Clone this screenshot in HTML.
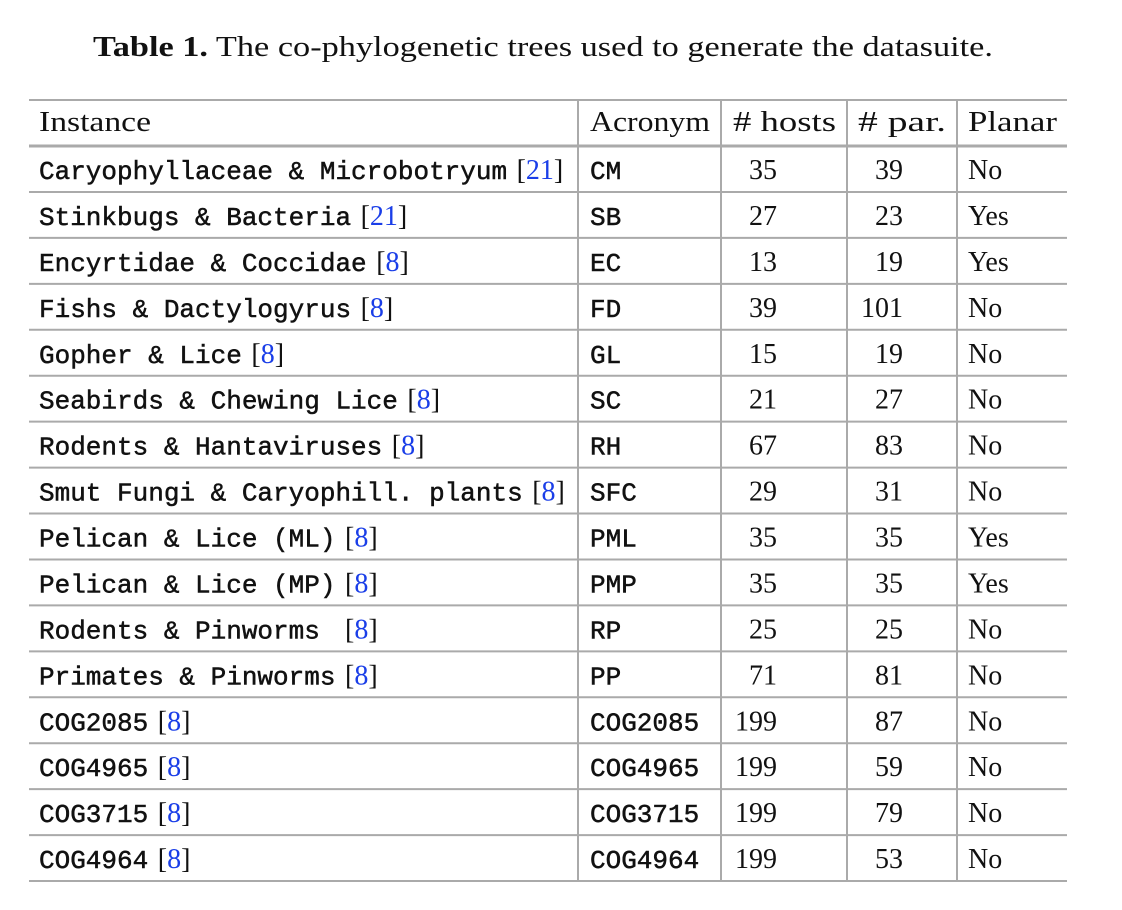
<!DOCTYPE html>
<html><head><meta charset="utf-8"><style>
html,body{margin:0;padding:0;background:#fff;}
svg{display:block;}
.s{font-family:"Liberation Serif",serif;font-size:28px;fill:#111;}
.m{font-family:"Liberation Mono",monospace;font-size:26px;fill:#111;stroke:#111;stroke-width:0.5;}
.b{fill:#1a3ee8;}
</style></head><body>
<svg width="1122" height="910" xmlns="http://www.w3.org/2000/svg">
<text class="s" x="93" y="56" textLength="900" lengthAdjust="spacingAndGlyphs"><tspan font-weight="bold">Table 1.</tspan> The co-phylogenetic trees used to generate the datasuite.</text>
<g stroke="#aaa" stroke-width="2">
<line x1="29" y1="100" x2="1067" y2="100"/>
<line x1="29" y1="146" x2="1067" y2="146" stroke-width="3"/>
<line x1="578" y1="100" x2="578" y2="882"/>
<line x1="721" y1="100" x2="721" y2="882"/>
<line x1="847" y1="100" x2="847" y2="882"/>
<line x1="957" y1="100" x2="957" y2="882"/>
</g>
<g class="s">
<text x="39" y="131" textLength="112" lengthAdjust="spacingAndGlyphs">Instance</text>
<text x="590" y="131" textLength="120" lengthAdjust="spacingAndGlyphs">Acronym</text>
<text x="733" y="131" textLength="103" lengthAdjust="spacingAndGlyphs"># hosts</text>
<text x="858" y="131" textLength="88" lengthAdjust="spacingAndGlyphs"># par.</text>
<text x="968" y="131" textLength="89" lengthAdjust="spacingAndGlyphs">Planar</text>
</g>
<g id="rows"></g>
</svg>
<script>
var d=[["Caryophyllaceae & Microbotryum ","21","CM","35","39","No"],
["Stinkbugs & Bacteria ","21","SB","27","23","Yes"],
["Encyrtidae & Coccidae ","8","EC","13","19","Yes"],
["Fishs & Dactylogyrus ","8","FD","39","101","No"],
["Gopher & Lice ","8","GL","15","19","No"],
["Seabirds & Chewing Lice ","8","SC","21","27","No"],
["Rodents & Hantaviruses ","8","RH","67","83","No"],
["Smut Fungi & Caryophill. plants ","8","SFC","29","31","No"],
["Pelican & Lice (ML) ","8","PML","35","35","Yes"],
["Pelican & Lice (MP) ","8","PMP","35","35","Yes"],
["Rodents & Pinworms  ","8","RP","25","25","No"],
["Primates & Pinworms ","8","PP","71","81","No"],
["COG2085 ","8","COG2085","199","87","No"],
["COG4965 ","8","COG4965","199","59","No"],
["COG3715 ","8","COG3715","199","79","No"],
["COG4964 ","8","COG4964","199","53","No"]];
var g=document.getElementById('rows'),h='';
for(var i=0;i<d.length;i++){var r=d[i],c=170+i*45.94,y=c+9,l=146+(i+1)*45.94;
var n=r[0].length, w=n*15.6;
h+='<text class="m" x="39" y="'+y+'" xml:space="preserve">'+r[0].replace(/&/g,'&amp;')+'</text>';
h+='<text class="s" x="'+(39+w-6)+'" y="'+y+'">[<tspan class="b">'+r[1]+'</tspan>]</text>';
h+='<text class="m" x="590" y="'+y+'">'+r[2]+'</text>';
h+='<text class="s" x="777" y="'+y+'" text-anchor="end">'+r[3]+'</text>';
h+='<text class="s" x="903" y="'+y+'" text-anchor="end">'+r[4]+'</text>';
h+='<text class="s" x="968" y="'+y+'">'+r[5]+'</text>';
h+='<line x1="29" y1="'+l+'" x2="1067" y2="'+l+'" stroke="#aaa" stroke-width="2"/>';}
g.innerHTML=h;
</script>
</body></html>
